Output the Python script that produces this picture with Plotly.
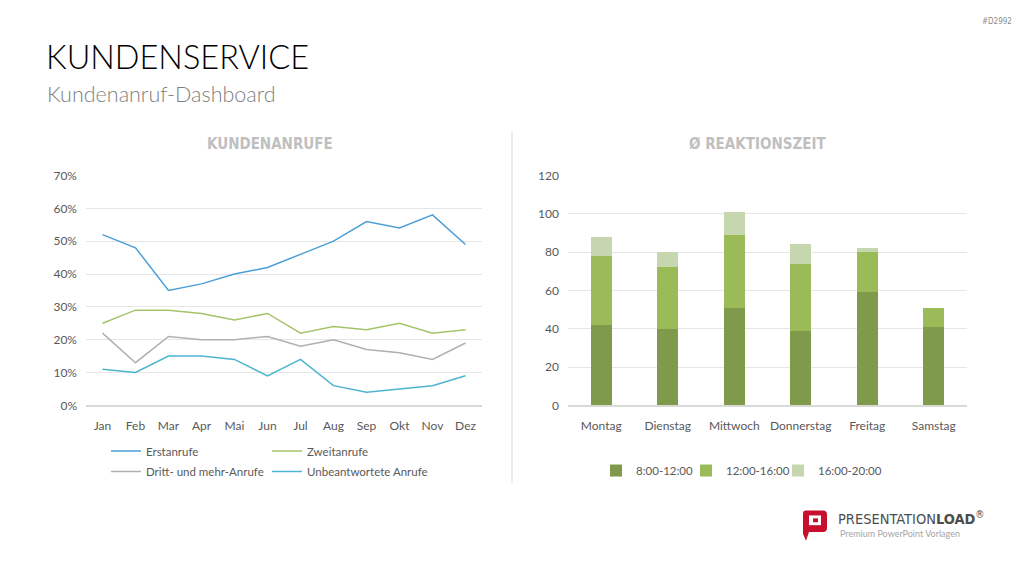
import plotly.graph_objects as go

months = ["Jan", "Feb", "Mar", "Apr", "Mai", "Jun", "Jul", "Aug", "Sep", "Okt", "Nov", "Dez"]
erstanrufe = [0.52, 0.48, 0.35, 0.37, 0.40, 0.42, 0.46, 0.50, 0.56, 0.54, 0.58, 0.49]
zweitanrufe = [0.25, 0.29, 0.29, 0.28, 0.26, 0.28, 0.22, 0.24, 0.23, 0.25, 0.22, 0.23]
dritt = [0.22, 0.13, 0.21, 0.20, 0.20, 0.21, 0.18, 0.20, 0.17, 0.16, 0.14, 0.19]
unbeantwortet = [0.11, 0.10, 0.15, 0.15, 0.14, 0.09, 0.14, 0.06, 0.04, 0.05, 0.06, 0.09]

days = ["Montag", "Dienstag", "Mittwoch", "Donnerstag", "Freitag", "Samstag"]
slot_8_12 = [42, 40, 51, 39, 59, 41]
slot_12_16 = [36, 32, 38, 35, 21, 10]
slot_16_20 = [10, 8, 12, 10, 2, 0]

TXT = "#595959"
GRID = "#E6E6E6"
FONT = "Lato, Open Sans, sans-serif"
NARROW = "DejaVu Sans Condensed, DejaVu Sans, sans-serif"

fig = go.Figure()

line_series = [
    ("Erstanrufe", erstanrufe, "#4A9FD9", "legend"),
    ("Zweitanrufe", zweitanrufe, "#A5C46A", "legend3"),
    ("Dritt- und mehr-Anrufe", dritt, "#B0B0B0", "legend4"),
    ("Unbeantwortete Anrufe", unbeantwortet, "#4BB5D0", "legend5"),
]
for name, vals, col, lgd in line_series:
    fig.add_trace(go.Scatter(x=months, y=vals, name=name, mode="lines",
                             line=dict(color=col, width=1.5), xaxis="x", yaxis="y",
                             legend=lgd))

bar_series = [
    ("8:00-12:00", slot_8_12, "#7F9A4A", "legend2"),
    ("12:00-16:00", slot_12_16, "#9BBB59", "legend6"),
    ("16:00-20:00", slot_16_20, "#C6D6AE", "legend7"),
]
for name, vals, col, lgd in bar_series:
    fig.add_trace(go.Bar(x=days, y=vals, name=name, marker=dict(color=col, line=dict(width=0)),
                         xaxis="x2", yaxis="y2", legend=lgd))

H = 576
W = 1024
def py(p):
    return 1 - p / H
def px(p):
    return p / W

axis_common = dict(tickfont=dict(family=FONT, size=12, color=TXT), showgrid=False,
                   showline=True, linecolor="#D9D9D9", linewidth=2, ticks="", fixedrange=True,
                   ticklabelstandoff=8)
yaxis_common = dict(tickfont=dict(family=FONT, size=12, color=TXT), showgrid=True,
                    gridcolor=GRID, gridwidth=1, zeroline=False, showline=False, ticks="",
                    ticklabelstandoff=8)

def lg(x, y, anchor="left"):
    return dict(orientation="h", x=px(x), xanchor=anchor, y=py(y), yanchor="top",
                font=dict(family=FONT, size=11.5, color=TXT), traceorder="normal",
                bgcolor="rgba(0,0,0,0)", borderwidth=0)

fig.update_layout(
    width=W, height=H, autosize=False,
    margin=dict(l=0, r=0, t=0, b=0),
    paper_bgcolor="white", plot_bgcolor="white",
    barmode="stack", bargap=0.68,
    xaxis=dict(domain=[px(86), px(482)], anchor="y", range=[-0.5, 11.5], **axis_common),
    yaxis=dict(domain=[py(408), py(172)], anchor="x", range=[0, 0.7], dtick=0.1,
               tickformat=".0%", **yaxis_common),
    xaxis2=dict(domain=[px(568), px(967)], anchor="y2", range=[-0.5, 5.5], **axis_common),
    yaxis2=dict(domain=[py(408), py(172)], anchor="x2", range=[0, 120], dtick=20,
                **yaxis_common),
    legend=lg(106, 440),
    legend3=lg(267, 440),
    legend4=lg(106, 461),
    legend5=lg(267, 461),
    legend2=lg(596, 460),
    legend6=lg(686, 460),
    legend7=lg(778, 460),
    showlegend=True,
)

annotations = [
    dict(text="KUNDENSERVICE", x=px(44), y=py(50), xanchor="left", yanchor="middle",
         font=dict(family=FONT, size=32.5, color="#000000", weight=300)),
    dict(text="Kundenanruf-Dashboard", x=px(45), y=py(88), xanchor="left", yanchor="middle",
         font=dict(family=FONT, size=21.5, color="#7F7F7F", weight=300)),
    dict(text="#D2992", x=px(1014), y=py(14), xanchor="right", yanchor="middle",
         font=dict(family=NARROW, size=8, color="#8C8C8C")),
    dict(text="<b>KUNDENANRUFE</b>", x=px(270), y=py(140), xanchor="center", yanchor="middle",
         font=dict(family=NARROW, size=15, color="#BFBFBF")),
    dict(text="<b>Ø REAKTIONSZEIT</b>", x=px(757), y=py(140), xanchor="center", yanchor="middle",
         font=dict(family=NARROW, size=15, color="#BFBFBF")),
    dict(text="PRESENTATION<b>LOAD</b><sup>®</sup>", x=px(836), y=py(524), xanchor="left",
         yanchor="middle",
         font=dict(family=NARROW, size=14.5, color="#4D4D4D")),
    dict(text="Premium PowerPoint Vorlagen", x=px(838), y=py(540), xanchor="left", yanchor="middle",
         font=dict(family=FONT, size=9, color="#A6A6A6")),
]
for a in annotations:
    a.update(xref="paper", yref="paper", showarrow=False)
fig.update_layout(annotations=annotations)

def P(x, y):
    return f"{px(x)},{py(y)}"

shapes = [
    dict(type="line", xref="paper", yref="paper", x0=px(512), x1=px(512), y0=py(127), y1=py(488),
         line=dict(color="#D9D9D9", width=1)),
    dict(type="path", xref="paper", yref="paper",
         path=f"M {P(806,516)} L {P(823,516)} Q {P(827,516)} {P(827,520)} L {P(827,534)} "
              f"Q {P(827,538)} {P(823,538)} L {P(809,538)} L {P(806,547)} L {P(803,540)} "
              f"L {P(803,519)} Q {P(803,516)} {P(806,516)} Z",
         fillcolor="#C8102E", line=dict(width=0)),
    dict(type="rect", xref="paper", yref="paper", x0=px(809), x1=px(821), y0=py(531), y1=py(521),
         fillcolor="white", line=dict(width=0)),
    dict(type="rect", xref="paper", yref="paper", x0=px(813), x1=px(818), y0=py(528), y1=py(524),
         fillcolor="#C8102E", line=dict(width=0)),
]
fig.update_layout(shapes=shapes)

fig.write_html("out.html")
